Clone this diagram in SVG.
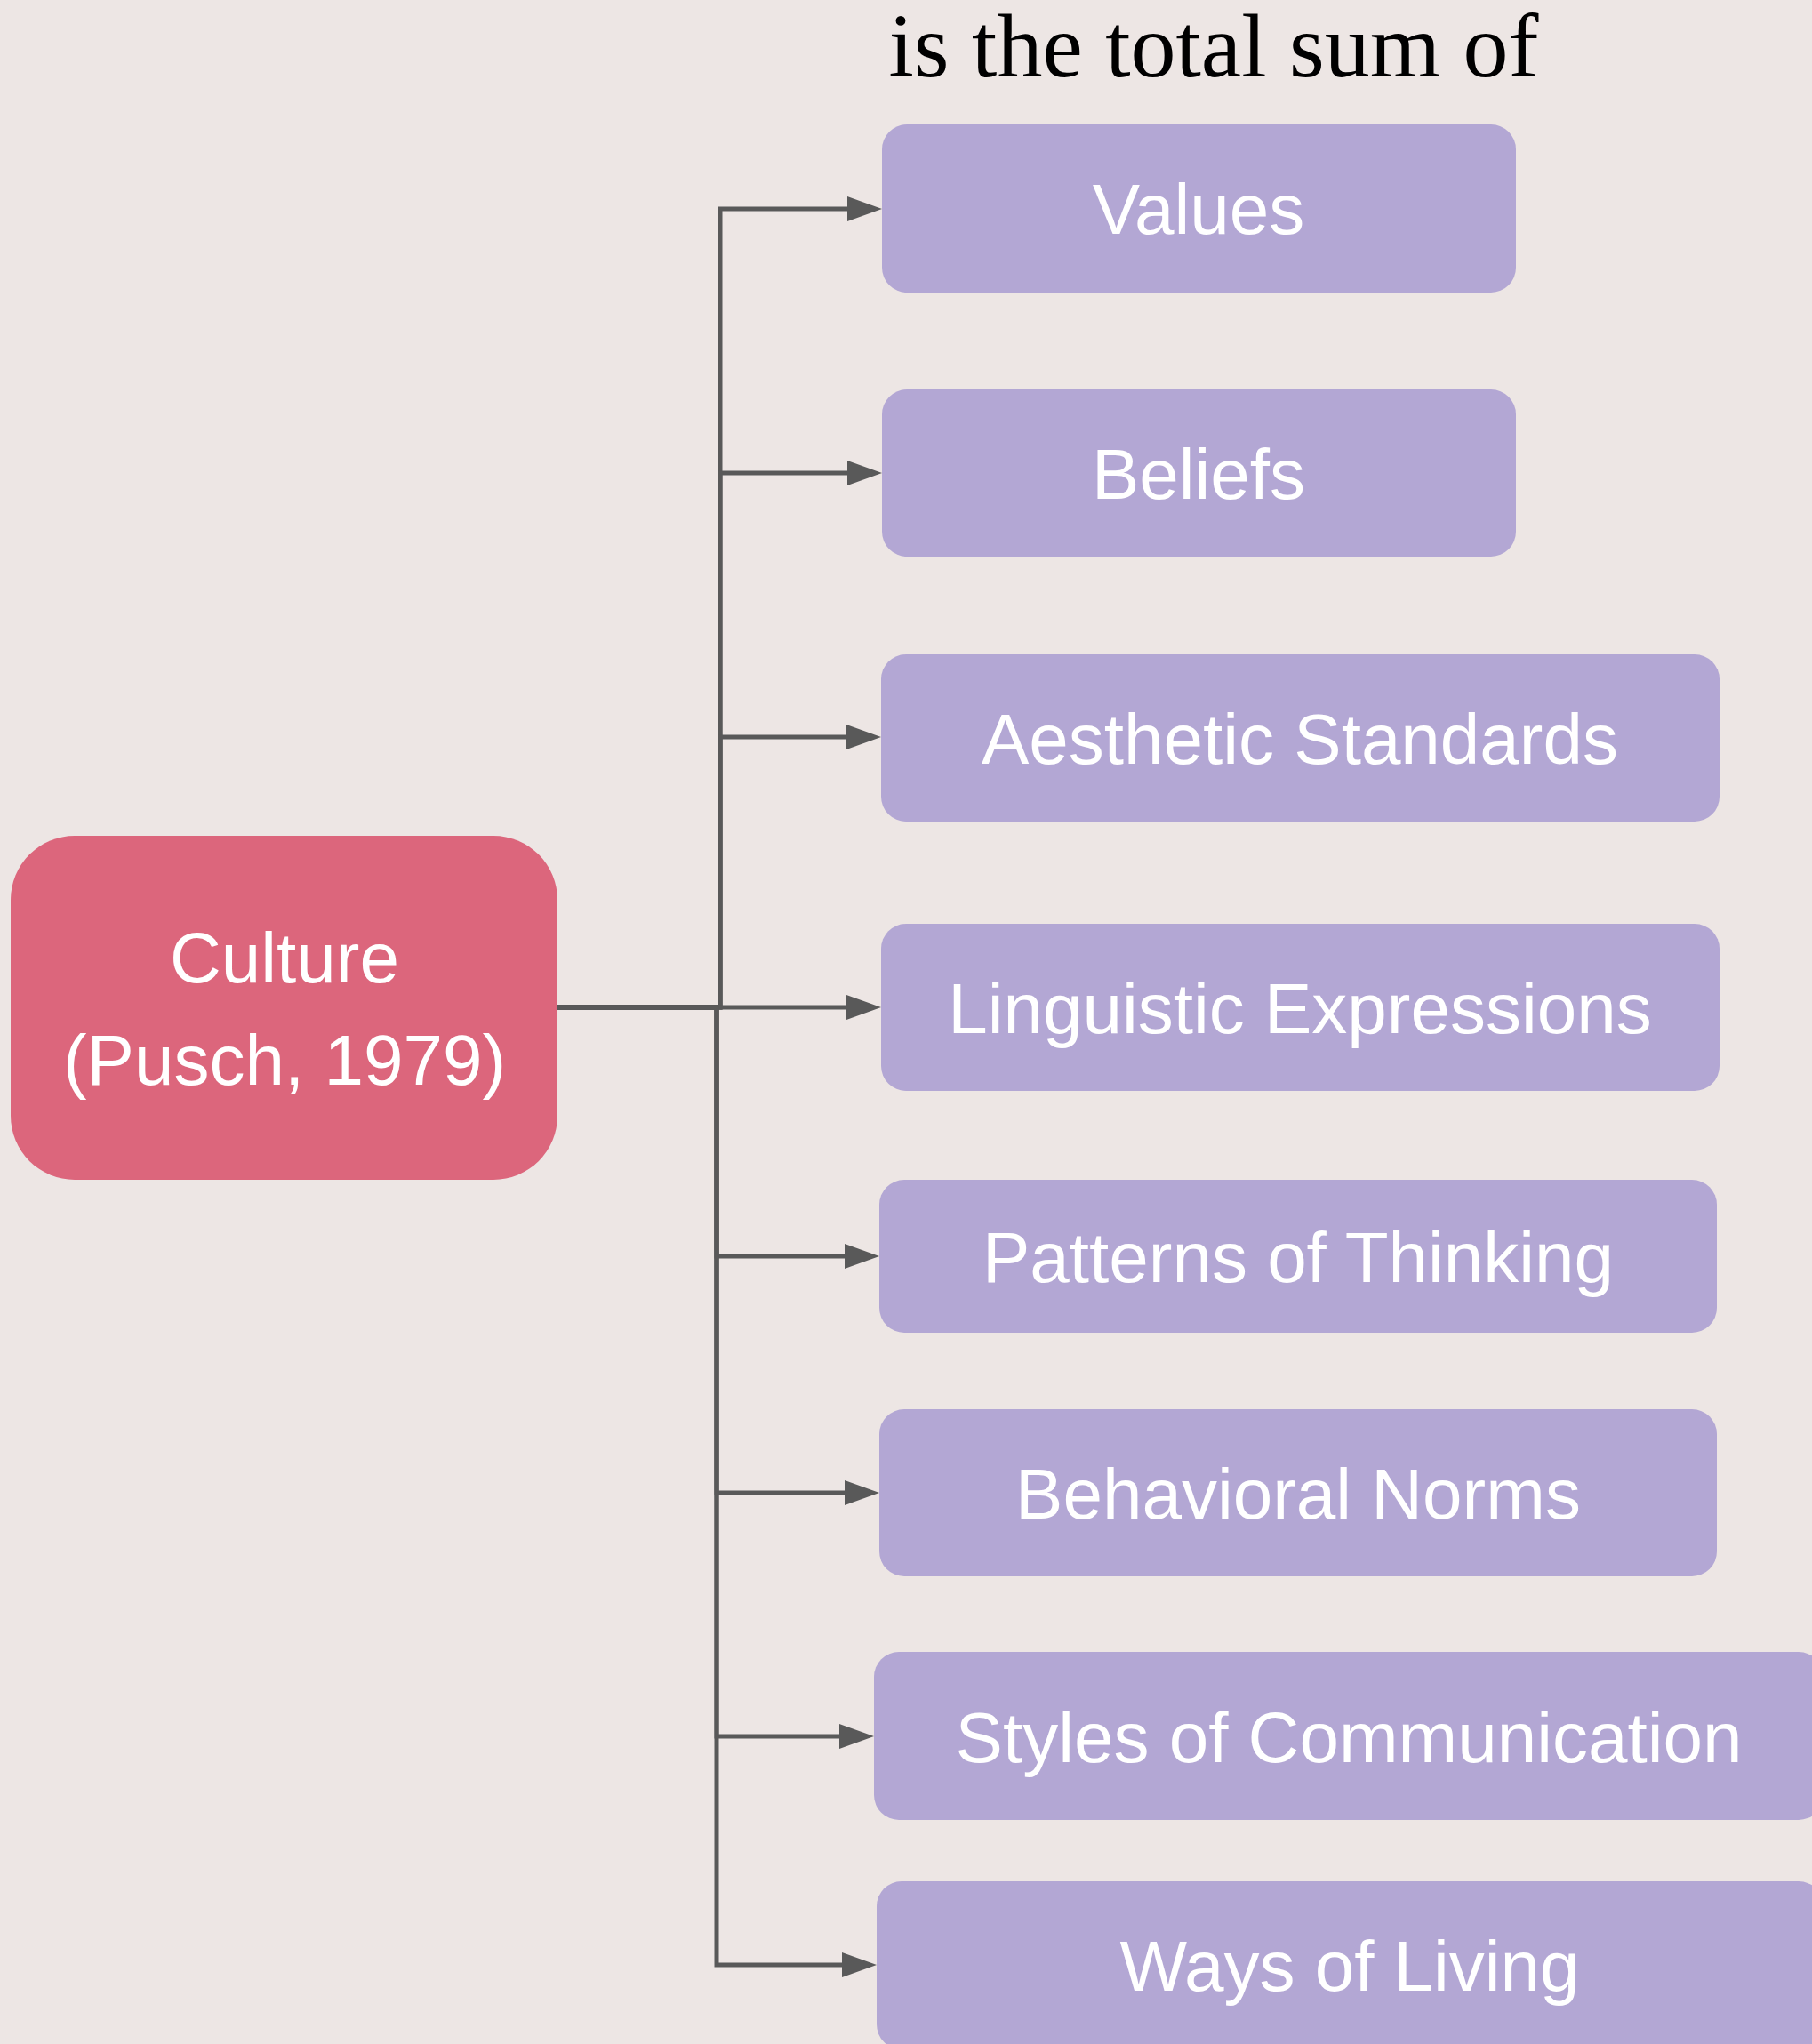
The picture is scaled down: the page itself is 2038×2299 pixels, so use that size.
<svg xmlns="http://www.w3.org/2000/svg" width="2038" height="2299" viewBox="0 0 2038 2299">
  <style>
    .bg { fill: #EDE6E4; }
    .root { fill: #DC667C; }
    .item { fill: #B3A7D4; }
    .label { font-family: "Liberation Sans", Arial, sans-serif; font-size: 80px; fill: #FFFFFF; text-anchor: middle; }
    .title { font-family: "Liberation Serif", "Times New Roman", serif; font-size: 102px; fill: #000000; text-anchor: middle; }
    .edge { fill: none; stroke: #595959; stroke-width: 5; }
  </style>
  <defs>
    <marker id="arrow" markerUnits="userSpaceOnUse" viewBox="0 0 39 28" refX="0" refY="14" markerWidth="39" markerHeight="28" orient="auto">
      <path d="M0,0 L39,14 L0,28 Z" fill="#595959"/>
    </marker>
  </defs>

  <rect class="bg" x="0" y="0" width="2038" height="2299"/>

  <text class="title" x="1365" y="86">is the total sum of</text>

  <!-- connectors: root to each item, routed through a vertical trunk -->
  <g id="connectors">
    <path class="edge" marker-end="url(#arrow)" d="M627,1133 H810 V235 H953"/>
    <path class="edge" marker-end="url(#arrow)" d="M627,1133 H810 V532 H953"/>
    <path class="edge" marker-end="url(#arrow)" d="M627,1133 H810 V829 H952"/>
    <path class="edge" marker-end="url(#arrow)" d="M627,1133 H952"/>
    <path class="edge" marker-end="url(#arrow)" d="M627,1133 H806 V1413 H950"/>
    <path class="edge" marker-end="url(#arrow)" d="M627,1133 H806 V1679 H950"/>
    <path class="edge" marker-end="url(#arrow)" d="M627,1133 H806 V1953 H944"/>
    <path class="edge" marker-end="url(#arrow)" d="M627,1133 H806 V2210 H947"/>
  </g>

  <g id="culture">
    <rect class="root" x="12" y="940" width="615" height="387" rx="72" ry="72"/>
    <text class="label" x="320" y="1105">Culture</text>
    <text class="label" x="320" y="1220">(Pusch, 1979)</text>
  </g>

  <g id="values">
    <rect class="item" x="992" y="140" width="713" height="189" rx="28" ry="28"/>
    <text class="label" x="1348" y="263">Values</text>
  </g>

  <g id="beliefs">
    <rect class="item" x="992" y="438" width="713" height="188" rx="28" ry="28"/>
    <text class="label" x="1348" y="561">Beliefs</text>
  </g>

  <g id="aesthetic-standards">
    <rect class="item" x="991" y="736" width="943" height="188" rx="28" ry="28"/>
    <text class="label" x="1462" y="859">Aesthetic Standards</text>
  </g>

  <g id="linguistic-expressions">
    <rect class="item" x="991" y="1039" width="943" height="188" rx="28" ry="28"/>
    <text class="label" x="1462" y="1162">Linguistic Expressions</text>
  </g>

  <g id="patterns-of-thinking">
    <rect class="item" x="989" y="1327" width="942" height="172" rx="28" ry="28"/>
    <text class="label" x="1460" y="1442">Patterns of Thinking</text>
  </g>

  <g id="behavioral-norms">
    <rect class="item" x="989" y="1585" width="942" height="188" rx="28" ry="28"/>
    <text class="label" x="1460" y="1708">Behavioral Norms</text>
  </g>

  <g id="styles-of-communication">
    <rect class="item" x="983" y="1858" width="1068" height="189" rx="28" ry="28"/>
    <text class="label" x="1517" y="1982">Styles of Communication</text>
  </g>

  <g id="ways-of-living">
    <rect class="item" x="986" y="2116" width="1065" height="189" rx="28" ry="28"/>
    <text class="label" x="1518" y="2239">Ways of Living</text>
  </g>
</svg>
